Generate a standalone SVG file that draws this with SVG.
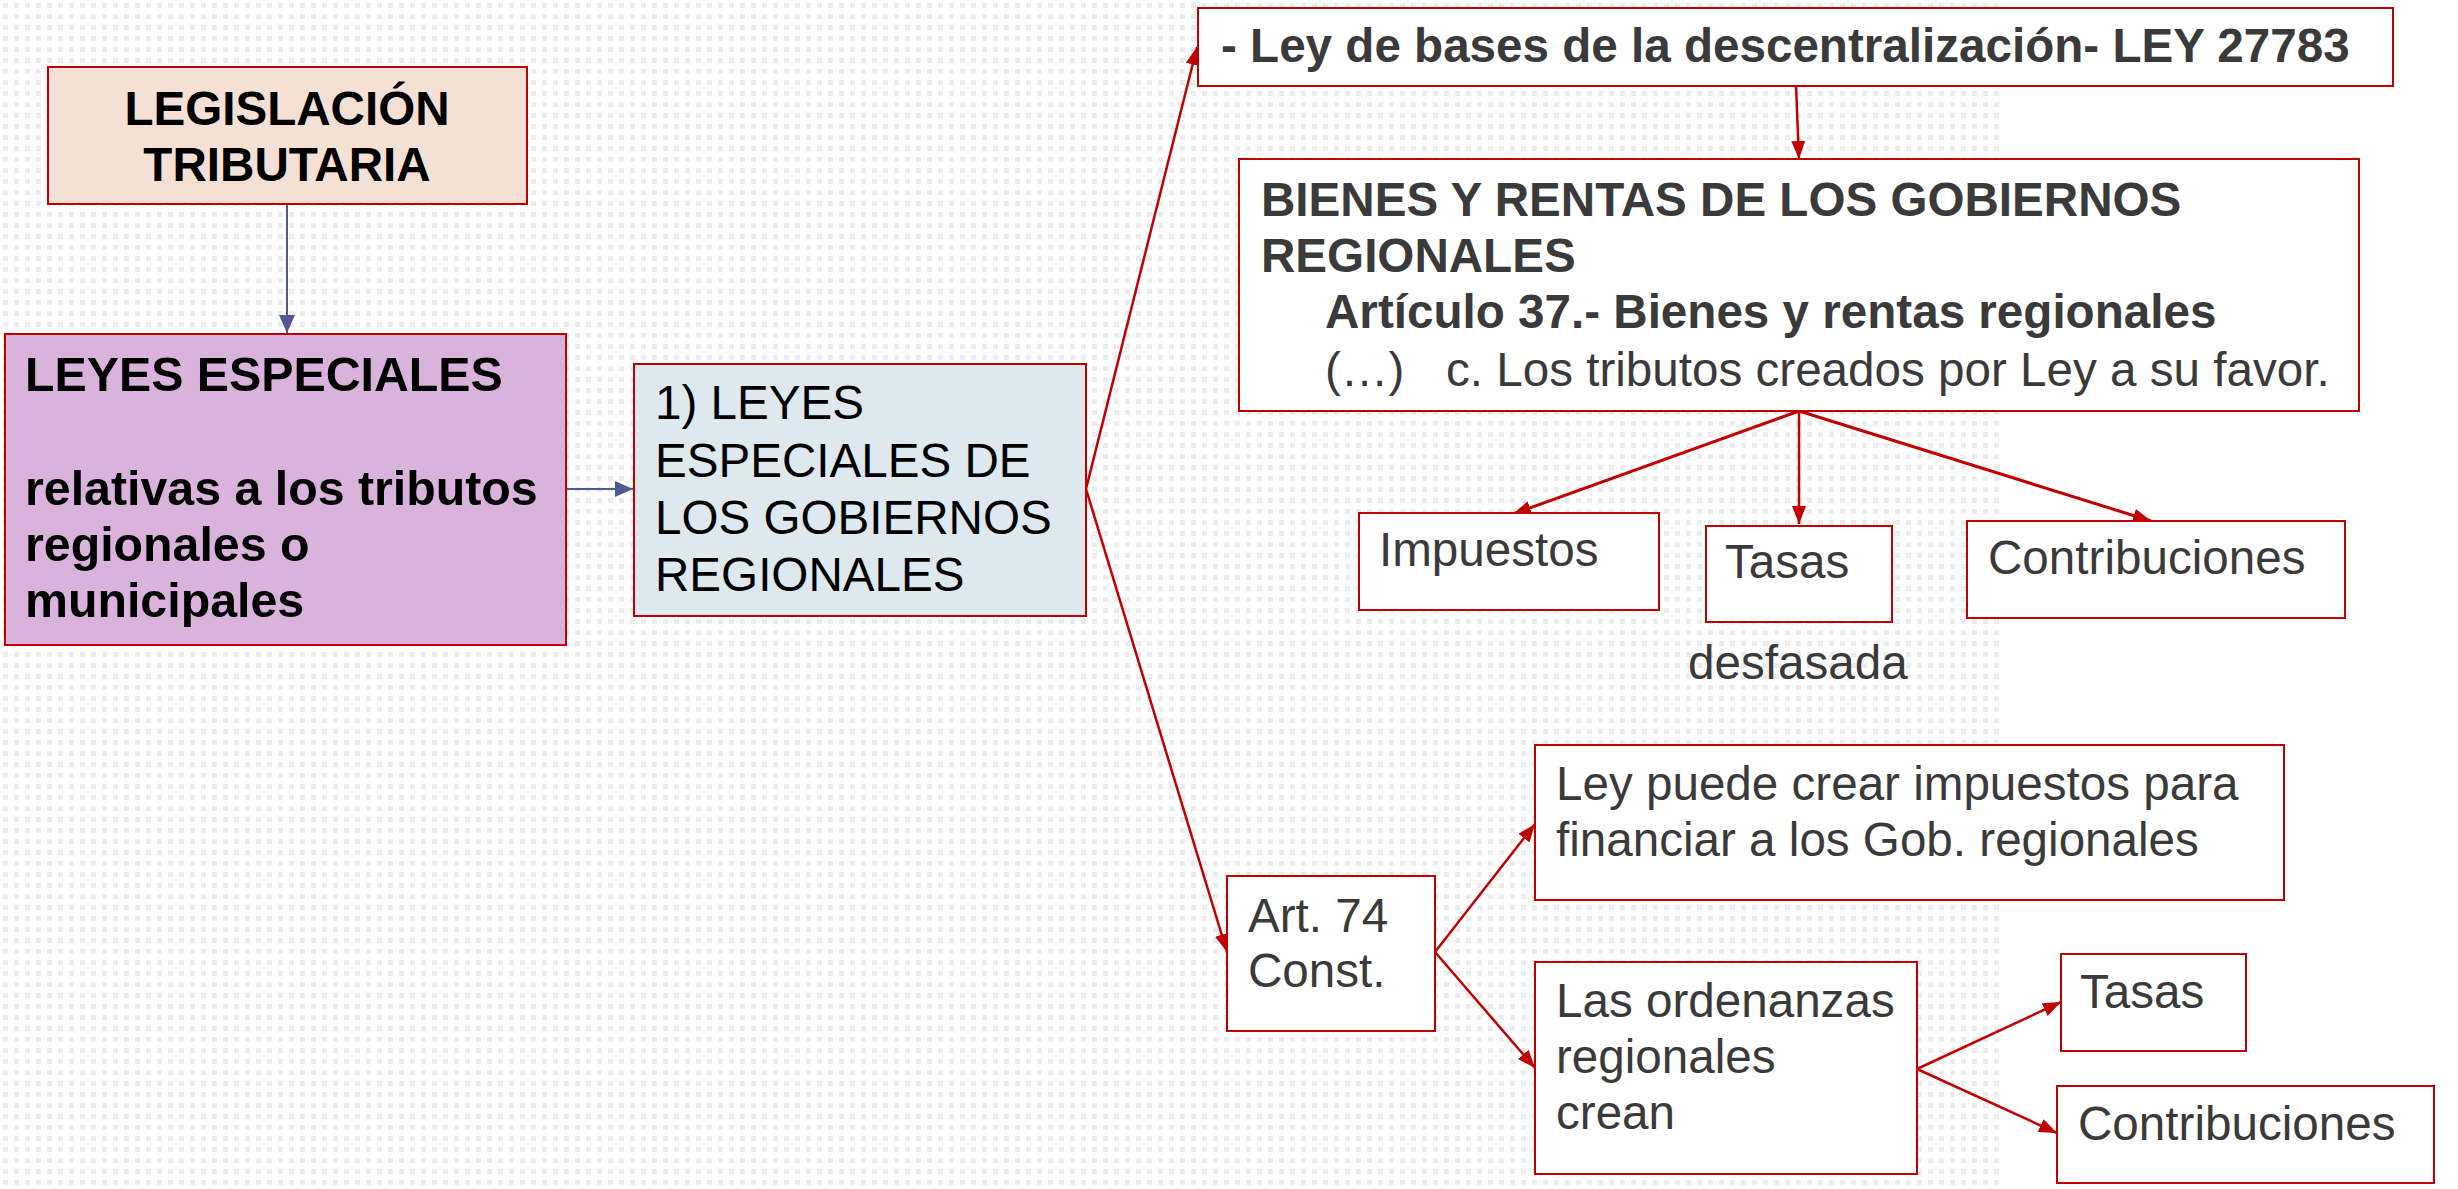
<svg xmlns="http://www.w3.org/2000/svg" width="2458" height="1189" viewBox="0 0 2458 1189">
<defs>
<pattern id="dots" width="11" height="11" patternUnits="userSpaceOnUse">
<rect x="3" y="3" width="5" height="5" fill="#ececec"/>
</pattern>
<marker id="ar" markerUnits="userSpaceOnUse" markerWidth="18" markerHeight="14" refX="18" refY="7" orient="auto">
<path d="M0,0 L18,7 L0,14 z" fill="#C00000"/>
</marker>
<marker id="ab" markerUnits="userSpaceOnUse" markerWidth="18" markerHeight="16" refX="18" refY="8" orient="auto">
<path d="M0,0 L18,8 L0,16 z" fill="#4F5A94"/>
</marker>
<style>
.box{stroke:#C00000;stroke-width:2}
.w{fill:#ffffff}
.t{font-family:"Liberation Sans",Arial,sans-serif;font-size:47.6px}
.b{font-weight:bold}
.big{font-size:48.3px}
.k{fill:#000000}
.g{fill:#3a3a3a}
.cr{stroke:#C00000;stroke-width:2.5;fill:none;marker-end:url(#ar)}
.cb{stroke:#4F5A94;stroke-width:2;fill:none;marker-end:url(#ab)}
</style>
</defs>
<rect x="0" y="0" width="2458" height="1189" fill="#ffffff"/>
<rect x="0" y="0" width="2000" height="1189" fill="url(#dots)"/>

<g id="connectors">
<line class="cb" x1="287" y1="204" x2="287" y2="333"/>
<line class="cb" x1="566" y1="489" x2="633" y2="489"/>
<line class="cr" x1="1086" y1="489" x2="1197" y2="47"/>
<line class="cr" x1="1086" y1="489" x2="1227" y2="952"/>
<line class="cr" x1="1796" y1="86" x2="1799" y2="159"/>
<line class="cr" x1="1799" y1="411" x2="1513" y2="514" style="stroke-width:3"/>
<line class="cr" x1="1799" y1="411" x2="1799" y2="524"/>
<line class="cr" x1="1799" y1="411" x2="2151" y2="521" style="stroke-width:3"/>
<line class="cr" x1="1435" y1="952" x2="1535" y2="824"/>
<line class="cr" x1="1435" y1="952" x2="1535" y2="1068"/>
<line class="cr" x1="1917" y1="1069" x2="2061" y2="1002"/>
<line class="cr" x1="1917" y1="1069" x2="2057" y2="1133"/>
</g>

<g id="legislacion">
<rect class="box" x="48" y="67" width="479" height="137" fill="#F5E0D5"/>
<text class="t b k" x="287" y="125" text-anchor="middle">LEGISLACIÓN</text>
<text class="t b k" x="287" y="181" text-anchor="middle">TRIBUTARIA</text>
</g>

<g id="leyes-especiales">
<rect class="box" x="5" y="334" width="561" height="311" fill="#D9B3DB"/>
<text class="t b k big" x="25" y="391">LEYES ESPECIALES</text>
<text class="t b k big" x="25" y="505">relativas a los tributos</text>
<text class="t b k big" x="25" y="561">regionales o</text>
<text class="t b k big" x="25" y="617">municipales</text>
</g>

<g id="leyes-gob-regionales">
<rect class="box" x="634" y="364" width="452" height="252" fill="#DEE8EF"/>
<text class="t k" x="655" y="419">1) LEYES</text>
<text class="t k" x="655" y="477">ESPECIALES DE</text>
<text class="t k" x="655" y="534">LOS GOBIERNOS</text>
<text class="t k" x="655" y="591">REGIONALES</text>
</g>

<g id="ley-bases">
<rect class="box w" x="1198" y="8" width="1195" height="78"/>
<text class="t b g" x="1221" y="62">- Ley de bases de la descentralización- LEY 27783</text>
</g>

<g id="bienes-rentas">
<rect class="box w" x="1239" y="159" width="1120" height="252"/>
<text class="t b g" x="1261" y="216">BIENES Y RENTAS DE LOS GOBIERNOS</text>
<text class="t b g" x="1261" y="272">REGIONALES</text>
<text class="t b g" x="1325" y="328">Artículo 37.- Bienes y rentas regionales</text>
<text class="t g" x="1325" y="386">(…)</text>
<text class="t g" x="1446" y="386">c. Los tributos creados por Ley a su favor.</text>
</g>

<g id="impuestos">
<rect class="box w" x="1359" y="513" width="300" height="97"/>
<text class="t g" x="1379" y="566">Impuestos</text>
</g>

<g id="tasas-1">
<rect class="box w" x="1706" y="526" width="186" height="96"/>
<text class="t g" x="1725" y="578">Tasas</text>
</g>

<g id="contribuciones-1">
<rect class="box w" x="1967" y="521" width="378" height="97"/>
<text class="t g" x="1988" y="574">Contribuciones</text>
</g>

<g id="desfasada">
<text class="t g" x="1688" y="679">desfasada</text>
</g>

<g id="art74">
<rect class="box w" x="1227" y="876" width="208" height="155"/>
<text class="t g" x="1248" y="932">Art. 74</text>
<text class="t g" x="1248" y="987">Const.</text>
</g>

<g id="ley-puede">
<rect class="box w" x="1535" y="745" width="749" height="155"/>
<text class="t g" x="1556" y="800">Ley puede crear impuestos para</text>
<text class="t g" x="1556" y="856">financiar a los Gob. regionales</text>
</g>

<g id="ordenanzas">
<rect class="box w" x="1535" y="962" width="382" height="212"/>
<text class="t g" x="1556" y="1017">Las ordenanzas</text>
<text class="t g" x="1556" y="1073">regionales</text>
<text class="t g" x="1556" y="1129">crean</text>
</g>

<g id="tasas-2">
<rect class="box w" x="2061" y="954" width="185" height="97"/>
<text class="t g" x="2080" y="1008">Tasas</text>
</g>

<g id="contribuciones-2">
<rect class="box w" x="2057" y="1086" width="377" height="97"/>
<text class="t g" x="2078" y="1140">Contribuciones</text>
</g>
</svg>
